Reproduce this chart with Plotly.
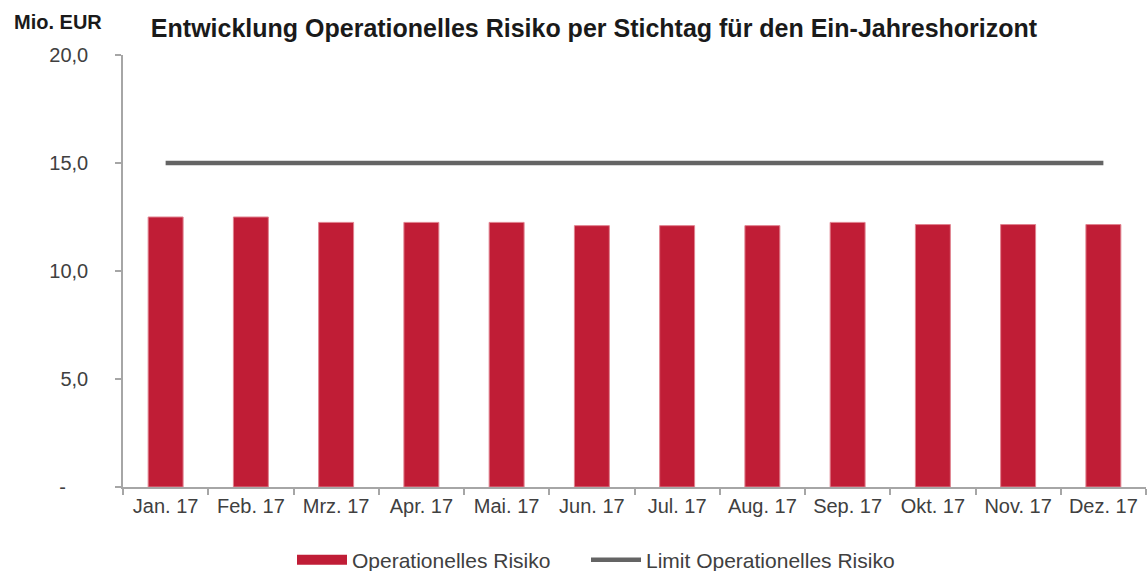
import plotly.graph_objects as go

categories = ["Jan. 17", "Feb. 17", "Mrz. 17", "Apr. 17", "Mai. 17", "Jun. 17",
              "Jul. 17", "Aug. 17", "Sep. 17", "Okt. 17", "Nov. 17", "Dez. 17"]
risk_values = [12.5, 12.5, 12.25, 12.25, 12.25, 12.1, 12.1, 12.1, 12.25, 12.15, 12.15, 12.15]
limit_values = [15.0] * 12
y_tickvals = [0, 5, 10, 15, 20]
y_ticktext = ["-\u2007\u2007", "5,0", "10,0", "15,0", "20,0"]

FONT = "Liberation Sans, Arial, sans-serif"
RED = "#C01D36"
GRAY = "#646464"
AX = "#A6A6A6"

fig = go.Figure()
fig.add_trace(go.Bar(
    x=categories, y=risk_values, name="Operationelles Risiko",
    marker=dict(color=RED, line=dict(color="#E0828F", width=1)),
    width=0.41, showlegend=False,
))
# legend swatch for bars (wide red band as in reference)
fig.add_trace(go.Scatter(
    x=[None], y=[None], mode="lines", name="Operationelles Risiko",
    line=dict(color=RED, width=11), legend="legend",
))
fig.add_trace(go.Scatter(
    x=categories, y=limit_values, mode="lines", name="Limit Operationelles Risiko",
    line=dict(color=GRAY, width=4.5), legend="legend2",
))

legend_common = dict(
    orientation="h", xref="container", yref="paper",
    y=(487 - 560) / 432, yanchor="middle",
    font=dict(family=FONT, size=21, color="#404040"),
    itemwidth=50, bgcolor="rgba(0,0,0,0)",
)

fig.update_layout(
    width=1148, height=571,
    margin=dict(l=123, r=2, t=55, b=84, autoexpand=False),
    paper_bgcolor="white", plot_bgcolor="white",
    font=dict(family=FONT, size=20, color="#404040"),
    title=dict(
        text="<b>Entwicklung Operationelles Risiko per Stichtag für den Ein-Jahreshorizont</b>",
        x=594 / 1148, xanchor="center", xref="container",
        y=1 - 28 / 571, yanchor="middle", yref="container",
        font=dict(family=FONT, size=25, color="#1a1a1a"),
    ),
    showlegend=True,
    legend=dict(x=292 / 1148, xanchor="left", **legend_common),
    legend2=dict(x=586 / 1148, xanchor="left", **legend_common),
    bargap=0.59,
)
fig.add_annotation(
    text="<b>Mio. EUR</b>", xref="paper", yref="paper",
    x=(12 - 123) / 1023, xanchor="left", y=(487 - 22) / 432, yanchor="middle",
    showarrow=False, font=dict(family=FONT, size=20, color="#1a1a1a"),
)
fig.update_xaxes(
    type="category", showgrid=False, showline=True, linecolor=AX, linewidth=1.5,
    ticks="outside", ticklen=6, tickcolor=AX, tickwidth=1.5, tickson="boundaries",
    tickfont=dict(family=FONT, size=20, color="#404040"), automargin=False,
)
fig.update_yaxes(
    range=[0, 20], tickvals=y_tickvals, ticktext=y_ticktext,
    showgrid=False, zeroline=False, showline=True, linecolor=AX, linewidth=1.5,
    ticks="outside", ticklen=6, tickcolor=AX, tickwidth=1.5,
    ticklabelstandoff=23, automargin=False,
    tickfont=dict(family=FONT, size=20, color="#404040"),
)

fig.write_html("out.html", config={"displayModeBar": False},
               post_script="document.body.style.margin='0';")
